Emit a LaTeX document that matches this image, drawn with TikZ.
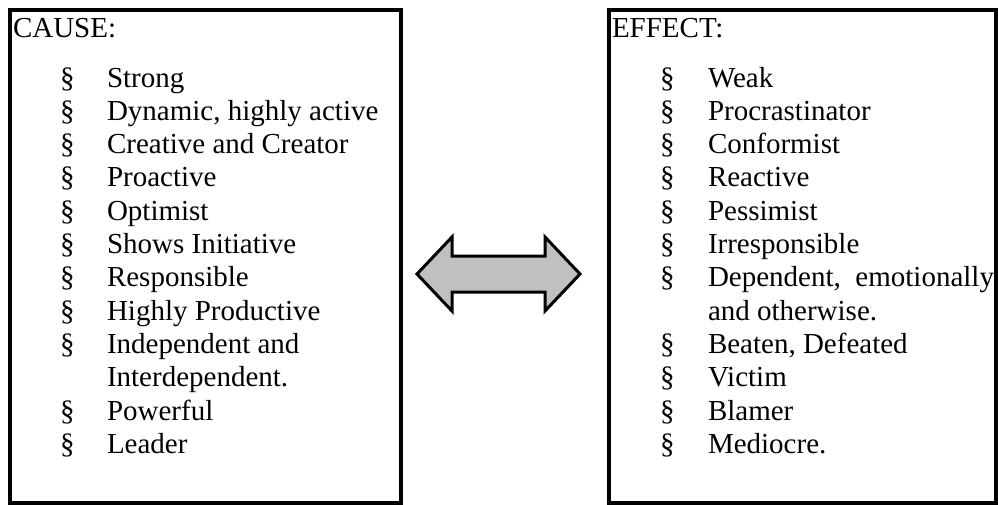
\documentclass[tikz,border=0pt]{standalone}
\usepackage{fontspec}
\setmainfont{Liberation Serif}
\definecolor{arrowgray}{RGB}{192,192,192}
\begin{document}
\begin{tikzpicture}[x=1pt,y=-1pt,
  frame/.style={draw=black,line width=4pt,inner sep=0pt,outer sep=0pt,anchor=north west},
  txt/.style={anchor=base west,inner sep=0pt,outer sep=0pt,font=\fontsize{29}{33.3}\selectfont},
  bigarrow/.style={draw=black,line width=3pt,fill=arrowgray,line join=miter}]
\useasboundingbox (0,0) rectangle (998,504);

% the two frames
\node[frame,minimum width=391pt,minimum height=493pt] (causebox) at (9.5,10) {};
\node[frame,minimum width=386.5pt,minimum height=493pt] (effectbox) at (609,10) {};

% headings
\node[txt] (causehead) at (13,37) {CAUSE:};
\node[txt] (effecthead) at (612,37) {EFFECT:};

% left list
\foreach \t [count=\i from 0] in {Strong,{Dynamic, highly active},Creative and Creator,Proactive,Optimist,Shows Initiative,Responsible,Highly Productive,Independent and,,Powerful,Leader}{
  \ifx\t\empty\else
    \node[txt] (cs\i) at (60,87+33.3*\i) {\S};
  \fi
  \node[txt] (ct\i) at (107,87+33.3*\i) {\t};
}
\node[txt] (ct9b) at (107,87+33.3*9) {Interdependent.};

% right list
\foreach \t [count=\i from 0] in {Weak,Procrastinator,Conformist,Reactive,Pessimist,Irresponsible,,,{Beaten, Defeated},Victim,Blamer,Mediocre.}{
  \ifx\t\empty\else
    \node[txt] (es\i) at (660,87+33.3*\i) {\S};
    \node[txt] (et\i) at (708,87+33.3*\i) {\t};
  \fi
}
\node[txt] (es6) at (660,87+33.3*6) {\S};
\node[txt] (et6) at (708,87+33.3*6) {\makebox[286pt][s]{Dependent, emotionally}};
\node[txt] (et7) at (708,87+33.3*7) {and otherwise.};

% double-headed block arrow between the frames
\draw[bigarrow] (417,274) -- (452,237) -- (452,256) -- (545,256) -- (545,237)
  -- (580,274) -- (545,311) -- (545,292) -- (452,292) -- (452,311) -- cycle;
\end{tikzpicture}
\end{document}
